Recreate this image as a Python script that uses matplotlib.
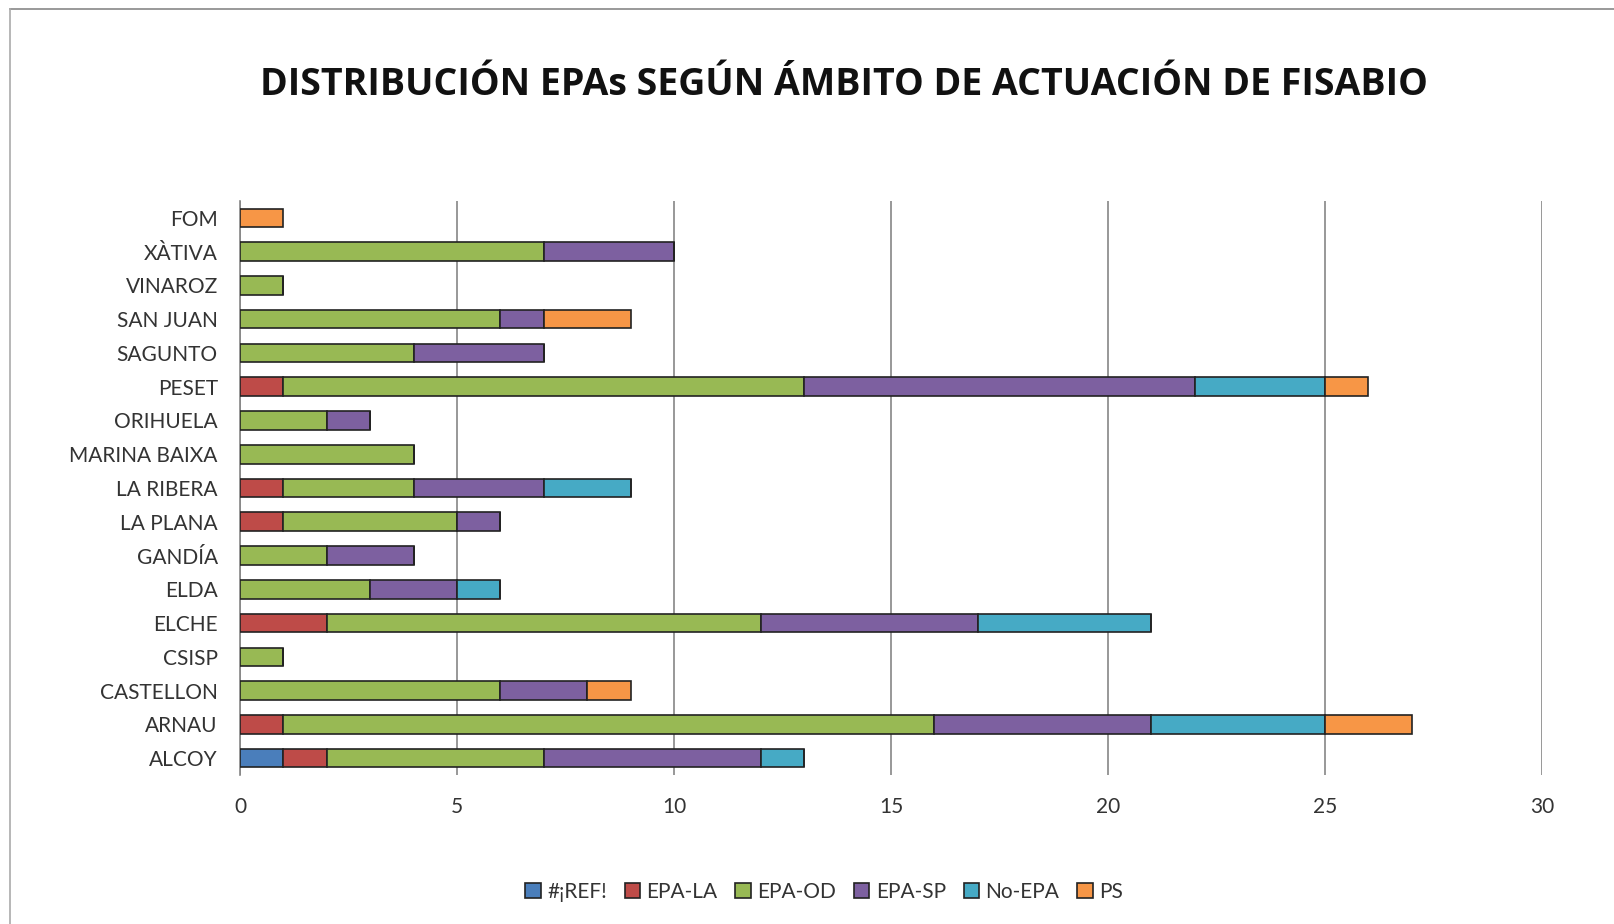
import matplotlib.pyplot as plt
from matplotlib.lines import Line2D
import numpy as np

# categories from top to bottom as shown
zonas = ['FOM', 'XÀTIVA', 'VINAROZ', 'SAN JUAN', 'SAGUNTO', 'PESET', 'ORIHUELA',
         'MARINA BAIXA', 'LA RIBERA', 'LA PLANA', 'GANDÍA', 'ELDA', 'ELCHE',
         'CSISP', 'CASTELLON', 'ARNAU', 'ALCOY']

series = ['#¡REF!', 'EPA-LA', 'EPA-OD', 'EPA-SP', 'No-EPA', 'PS']
ref    = [0, 0, 0, 0, 0, 0, 0, 0, 0, 0, 0, 0, 0, 0, 0, 0, 1]
epa_la = [0, 0, 0, 0, 0, 1, 0, 0, 1, 1, 0, 0, 2, 0, 0, 1, 1]
epa_od = [0, 7, 1, 6, 4, 12, 2, 4, 3, 4, 2, 3, 10, 1, 6, 15, 5]
epa_sp = [0, 3, 0, 1, 3, 9, 1, 0, 3, 1, 2, 2, 5, 0, 2, 5, 5]
no_epa = [0, 0, 0, 0, 0, 3, 0, 0, 2, 0, 0, 1, 4, 0, 0, 4, 1]
ps     = [1, 0, 0, 2, 0, 1, 0, 0, 0, 0, 0, 0, 0, 0, 1, 2, 0]
colores = ['#4A7EBB', '#BE4B48', '#98B954', '#7D60A0', '#46AAC5', '#F79646']

plt.rcParams['font.family'] = ['Lato', 'DejaVu Sans']

fig = plt.figure(figsize=(16.15, 9.24), dpi=100)
ax = fig.add_axes([240 / 1615, 1 - 775 / 924, 1302 / 1615, 574 / 924])

y = np.arange(len(zonas))
left = np.zeros(len(zonas))
for nombre, vals, c in zip(series, [ref, epa_la, epa_od, epa_sp, no_epa, ps], colores):
    vals = np.array(vals)
    ax.barh(y, vals, left=left, height=0.55, color=c, edgecolor='#222222',
            linewidth=1.2, label=nombre, zorder=3)
    left += vals

ax.set_ylim(len(zonas) - 0.5, -0.5)
ax.set_xlim(0, 30)
ax.set_xticks([0, 5, 10, 15, 20, 25, 30])
ax.set_yticks(y)
ax.set_yticklabels(zonas)
ax.tick_params(axis='both', length=0, labelsize=15, colors='#333333')
ax.tick_params(axis='x', pad=16)
ax.tick_params(axis='y', pad=16)
ax.grid(axis='x', color='#868686', linewidth=1.2, zorder=0)
for s in ['top', 'right', 'bottom']:
    ax.spines[s].set_visible(False)
ax.spines['left'].set_color('#868686')
ax.spines['left'].set_linewidth(1.2)

fig.text(844 / 1615, 1 - 85 / 924, 'DISTRIBUCIÓN EPAs SEGÚN ÁMBITO DE ACTUACIÓN DE FISABIO',
         ha='center', va='center', fontsize=27, fontweight='bold', family=['Open Sans', 'DejaVu Sans'],
         color='#111111')

fig.legend(loc='center', bbox_to_anchor=(824 / 1615, 1 - 892 / 924), ncol=6, frameon=False,
           fontsize=15, handlelength=0.75, handleheight=0.75, handletextpad=0.3,
           columnspacing=0.85, labelcolor='#333333')

# figure frame (top and left edges)
fig.add_artist(Line2D([10 / 1615, 1], [1 - 9 / 924, 1 - 9 / 924], color='#888888', linewidth=1.2))
fig.add_artist(Line2D([10 / 1615, 10 / 1615], [0, 1 - 9 / 924], color='#aaaaaa', linewidth=1.2))

fig.savefig('out.png', dpi=100)
